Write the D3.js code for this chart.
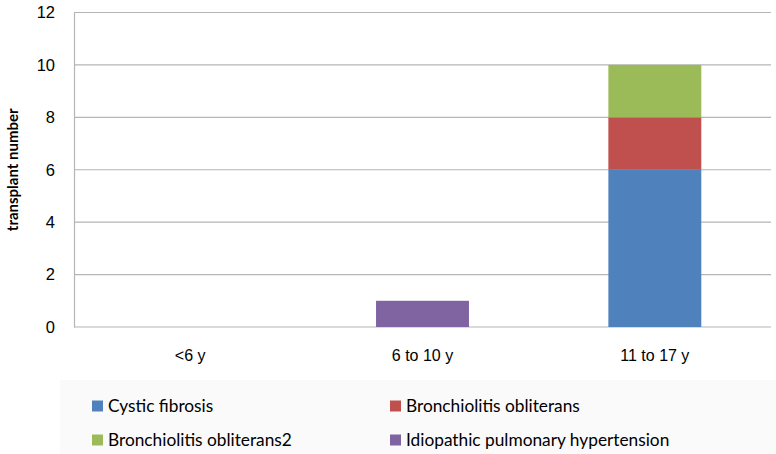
<!DOCTYPE html>
<html>
<head>
<meta charset="utf-8">
<script src="https://cdn.jsdelivr.net/npm/d3@7"></script>
<style>
  body { margin: 0; background: #fff; }
  svg { display: block; font-family: Lato, "Liberation Sans", sans-serif; }
</style>
</head>
<body>
<svg id="chart" width="776" height="454"></svg>
<script>
// data
const ageGroups = ["<6 y", "6 to 10 y", "11 to 17 y"];
const cysticFibrosis = [0, 0, 6];
const bronchiolitis = [0, 0, 2];
const bronchiolitis2 = [0, 0, 2];
const idiopathicPH = [0, 1, 0];
const yTicks = [0, 2, 4, 6, 8, 10, 12];

const seriesNames = ["Cystic fibrosis", "Bronchiolitis obliterans", "Bronchiolitis obliterans2", "Idiopathic pulmonary hypertension"];
const seriesValues = [cysticFibrosis, bronchiolitis, bronchiolitis2, idiopathicPH];
const colors = ["#4F81BD", "#C0504D", "#9BBB59", "#8064A2"];

const svg = d3.select("#chart");
const margin = { top: 12.5, left: 74, right: 5, bottom: 127 };
const W = 776 - margin.left - margin.right;
const H = 454 - margin.top - margin.bottom;

// faint legend background
svg.append("rect")
  .attr("x", 60).attr("y", 380).attr("width", 716).attr("height", 74)
  .attr("fill", "#fafafa");

const G = svg.append("g").attr("transform", `translate(${margin.left},${margin.top})`);

const x = d3.scaleBand().domain(ageGroups).range([0, W]);
const y = d3.scaleLinear().domain([0, 12]).range([H, 0]);
const barW = x.bandwidth() / 2.5;   // gap width 150%

// gridlines
G.selectAll("line.grid").data(yTicks).enter().append("line")
  .attr("class", "grid")
  .attr("x1", 0).attr("x2", W)
  .attr("y1", d => y(d)).attr("y2", d => y(d))
  .attr("stroke", "#b5b5b5").attr("stroke-width", 1.2);

// y axis
const yAx = G.append("g").call(d3.axisLeft(y).tickValues(yTicks).tickSize(0).tickPadding(19));
yAx.select(".domain").attr("stroke", "#b5b5b5").attr("stroke-width", 1.2);
yAx.selectAll("text").attr("font-size", 16.5).attr("fill", "#000");

// x axis labels
const xAx = G.append("g").attr("transform", `translate(0,${H})`)
  .call(d3.axisBottom(x).tickSize(0).tickPadding(23));
xAx.select(".domain").remove();
xAx.selectAll("text").attr("font-size", 16).attr("fill", "#000");

// stacked bars
const rows = ageGroups.map((g, i) => {
  const r = { group: g };
  seriesNames.forEach((s, k) => r[s] = seriesValues[k][i]);
  return r;
});
const stacked = d3.stack().keys(seriesNames)(rows);

G.selectAll("g.layer").data(stacked).enter().append("g")
  .attr("class", "layer")
  .attr("fill", (d, i) => colors[i])
  .selectAll("rect").data(d => d.filter(p => p[1] > p[0])).enter().append("rect")
  .attr("x", d => x(d.data.group) + (x.bandwidth() - barW) / 2)
  .attr("width", barW)
  .attr("y", d => y(d[1]))
  .attr("height", d => y(d[0]) - y(d[1]));

// y axis title
svg.append("text")
  .attr("transform", `translate(13,${margin.top + H / 2}) rotate(-90)`)
  .attr("text-anchor", "middle").attr("dy", "0.35em")
  .attr("font-size", 15).attr("font-weight", "bold")
  .text("transplant number");

// legend
const legendPos = [[92, 406], [390, 406], [92, 440], [390, 440]];
const lg = svg.selectAll("g.legend").data(seriesNames).enter().append("g")
  .attr("class", "legend")
  .attr("transform", (d, i) => `translate(${legendPos[i][0]},${legendPos[i][1]})`);
lg.append("rect").attr("x", 0).attr("y", -5.5).attr("width", 11).attr("height", 11)
  .attr("fill", (d, i) => colors[i]);
lg.append("text").attr("x", 16).attr("y", 0).attr("dy", "0.35em")
  .attr("font-size", 17.3).text(d => d);
</script>
</body>
</html>
